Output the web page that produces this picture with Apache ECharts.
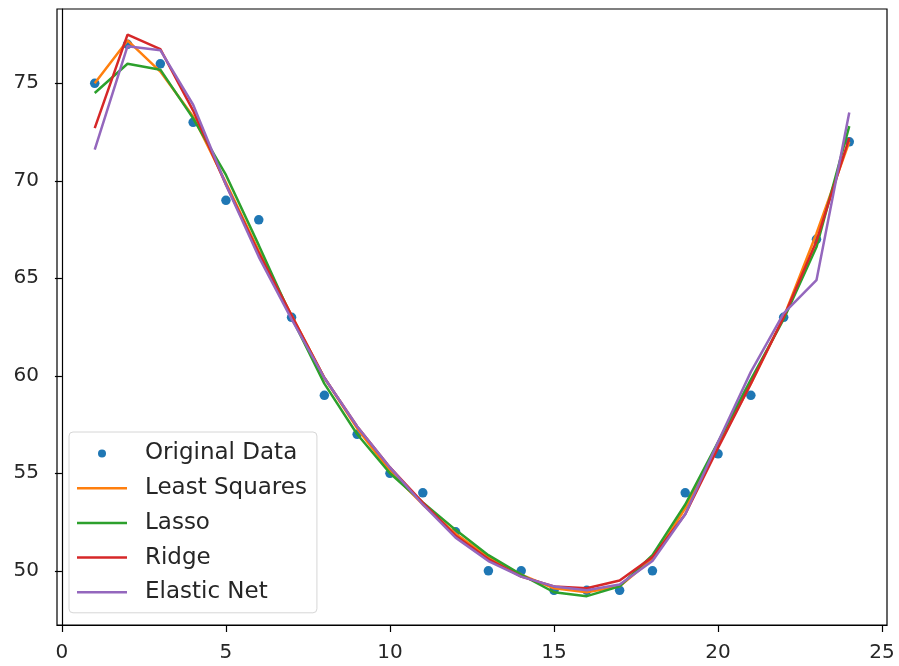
<!DOCTYPE html>
<html>
<head>
<meta charset="utf-8">
<script src="https://cdn.jsdelivr.net/npm/echarts/dist/echarts.min.js"></script>
<style>
  html, body { margin: 0; padding: 0; background: #fff; }
  #chart { width: 899px; height: 666px; }
</style>
</head>
<body>
<div id="chart"></div>
<script>
// x positions (1..24)
var xs = [1, 2, 3, 4, 5, 6, 7, 8, 9, 10, 11, 12, 13, 14, 15, 16, 17, 18, 19, 20, 21, 22, 23, 24];

// values
var originalData = [75, 77, 76, 73, 69, 68, 63, 59, 57, 55, 54, 52, 50, 50, 49, 49, 49, 50, 54, 56, 59, 63, 67, 72];
var leastSquares = [75.0, 77.2, 75.6, 73.3, 69.9, 66.4, 63.1, 59.9, 57.3, 55.1, 53.4, 51.9, 50.7, 49.8, 49.1, 48.9, 49.2, 50.6, 53.2, 56.4, 59.6, 63.0, 67.3, 72.0];
var lasso        = [74.5, 76.0, 75.7, 73.2, 70.3, 66.7, 63.0, 59.6, 57.0, 55.0, 53.5, 52.1, 50.8, 49.8, 48.9, 48.7, 49.2, 50.8, 53.4, 56.6, 59.8, 62.9, 66.6, 72.8];
var ridge        = [72.7, 77.5, 76.75, 73.6, 69.8, 66.3, 63.1, 59.9, 57.4, 55.3, 53.5, 51.8, 50.6, 49.7, 49.2, 49.1, 49.5, 50.7, 52.9, 56.3, 59.6, 63.0, 66.9, 72.2];
var elasticNet   = [71.6, 76.9, 76.7, 73.9, 69.8, 66.1, 62.9, 59.9, 57.4, 55.3, 53.4, 51.7, 50.5, 49.7, 49.2, 49.0, 49.3, 50.5, 52.9, 56.6, 60.2, 63.2, 64.9, 73.5];

// tick labels
var xTicks = [0, 5, 10, 15, 20, 25];
var yTicks = [50, 55, 60, 65, 70, 75];

function pairs(ys) {
  var out = [];
  for (var i = 0; i < xs.length; i++) {
    out.push([xs[i], ys[i]]);
  }
  return out;
}

var font = "DejaVu Sans";
var textColor = "#262626";
// plain line for the legend, no marker in the middle
var lineIcon = "path://M0,0H50V2.5H0Z";

function lineSeries(name, ys, color) {
  return {
    name: name,
    type: "line",
    data: pairs(ys),
    symbol: "none",
    lineStyle: { color: color, width: 2.5 },
    itemStyle: { color: color }
  };
}

var myChart = echarts.init(document.getElementById("chart"));
myChart.setOption({
  animation: false,
  backgroundColor: "#fff",
  grid: {
    left: 57,
    right: 12,
    top: 9,
    bottom: 41,
    show: true,
    borderColor: "#000",
    borderWidth: 1.2
  },
  legend: {
    orient: "vertical",
    left: 69,
    top: 432,
    padding: [10, 10, 9, 8],
    itemWidth: 50,
    itemHeight: 8,
    itemGap: 11.7,
    backgroundColor: "rgba(255,255,255,0.8)",
    borderColor: "#d6d6d6",
    borderWidth: 1,
    borderRadius: 4,
    textStyle: {
      fontFamily: font,
      fontSize: 23,
      lineHeight: 23,
      color: textColor,
      padding: [0, 0, 0, 13]
    },
    data: [
      { name: "Original Data", icon: "circle" },
      { name: "Least Squares", icon: lineIcon },
      { name: "Lasso", icon: lineIcon },
      { name: "Ridge", icon: lineIcon },
      { name: "Elastic Net", icon: lineIcon }
    ]
  },
  xAxis: {
    type: "value",
    min: -0.15,
    max: 25.15,
    splitLine: { show: false },
    axisLine: { lineStyle: { color: "#000", width: 1.2 } },
    axisTick: {
      customValues: xTicks,
      length: 7,
      lineStyle: { color: "#000", width: 1.2 }
    },
    axisLabel: {
      customValues: xTicks,
      fontFamily: font,
      fontSize: 20,
      color: textColor,
      margin: 18
    }
  },
  yAxis: {
    type: "value",
    min: 47.22,
    max: 78.81,
    splitLine: { show: false },
    axisLine: { show: true, lineStyle: { color: "#000", width: 1.2 } },
    axisTick: {
      show: true,
      customValues: yTicks,
      length: 7,
      lineStyle: { color: "#000", width: 1.2 }
    },
    axisLabel: {
      customValues: yTicks,
      fontFamily: font,
      fontSize: 20,
      color: textColor,
      margin: 18
    }
  },
  series: [
    {
      name: "Original Data",
      type: "scatter",
      data: pairs(originalData),
      symbol: "circle",
      symbolSize: 9.5,
      itemStyle: { color: "#1f77b4", opacity: 1 }
    },
    lineSeries("Least Squares", leastSquares, "#ff7f0e"),
    lineSeries("Lasso", lasso, "#2ca02c"),
    lineSeries("Ridge", ridge, "#d62728"),
    lineSeries("Elastic Net", elasticNet, "#9467bd")
  ]
});
</script>
</body>
</html>
